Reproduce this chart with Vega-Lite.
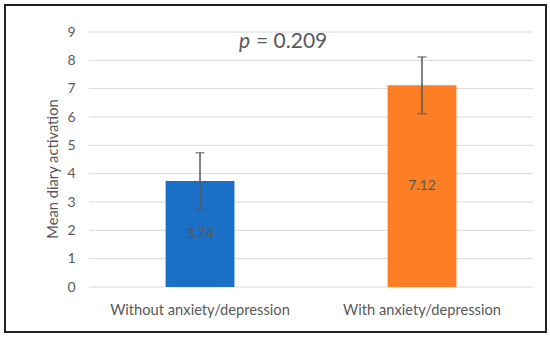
{
  "$schema": "https://vega.github.io/schema/vega-lite/v6.json",
  "width": 541,
  "height": 327,
  "autosize": "none",
  "padding": {"left": 5, "top": 5, "right": 4, "bottom": 8},
  "background": "white",
  "config": {
    "view": {"stroke": "#222222", "strokeWidth": 2},
    "font": "Lato",
    "axis": {"labelFont": "Lato", "titleFont": "Lato", "labelColor": "#595959", "titleColor": "#595959"}
  },
  "datasets": {
    "bars": [
      {"group": "Without anxiety/depression", "mean": 3.74, "lo": 2.74, "hi": 4.74},
      {"group": "With anxiety/depression", "mean": 7.12, "lo": 6.12, "hi": 8.12}
    ],
    "grid": [{"v": 0}, {"v": 1}, {"v": 2}, {"v": 3}, {"v": 4}, {"v": 5}, {"v": 6}, {"v": 7}, {"v": 8}, {"v": 9}]
  },
  "layer": [
    {
      "data": {"name": "grid"},
      "mark": {"type": "rule", "color": "#d9d9d9", "strokeWidth": 1},
      "encoding": {
        "x": {"datum": 0, "type": "quantitative", "scale": {"domain": [-0.3784, 2.0586], "nice": false, "zero": false}, "axis": null},
        "x2": {"datum": 2},
        "y": {
          "field": "v", "type": "quantitative",
          "scale": {"domain": [-1.588, 9.953], "nice": false, "zero": false},
          "axis": {"title": "Mean diary activation", "values": [0, 1, 2, 3, 4, 5, 6, 7, 8, 9], "labelOverlap": false, "grid": false, "domain": false, "ticks": false, "offset": -74, "labelPadding": 4, "labelFontSize": 14, "titleFontSize": 14.7, "titleFontWeight": "normal", "titlePadding": 6}
        }
      }
    },
    {
      "data": {"name": "bars"},
      "encoding": {
        "x": {
          "field": "group", "type": "nominal", "sort": null,
          "scale": {"type": "band", "paddingInner": 0, "paddingOuter": 0.2185, "align": 0.866},
          "axis": {"title": null, "orient": "bottom", "offset": -33, "domain": false, "ticks": false, "labelPadding": 3, "labelFontSize": 14.7, "labelAngle": 0}
        }
      },
      "layer": [
        {
          "mark": {"type": "bar", "width": {"band": 0.31}},
          "encoding": {
            "y": {
              "field": "mean", "type": "quantitative",
              "scale": {"domain": [-1.588, 9.953], "nice": false, "zero": false},
              "axis": null
            },
            "y2": {"datum": 0},
            "color": {
              "field": "group", "type": "nominal", "sort": null,
              "scale": {"domain": ["Without anxiety/depression", "With anxiety/depression"], "range": ["#1c6fc6", "#fe7e26"]},
              "legend": null
            }
          }
        },
        {
          "mark": {"type": "rule", "color": "#595959", "strokeWidth": 1.5},
          "encoding": {
            "y": {"field": "lo", "type": "quantitative", "axis": null},
            "y2": {"field": "hi"}
          }
        },
        {
          "mark": {"type": "tick", "color": "#595959", "size": 9, "thickness": 1.5},
          "encoding": {"y": {"field": "lo", "type": "quantitative", "axis": null}}
        },
        {
          "mark": {"type": "tick", "color": "#595959", "size": 9, "thickness": 1.5},
          "encoding": {"y": {"field": "hi", "type": "quantitative", "axis": null}}
        },
        {
          "data": {"values": [{"t": "p"}]},
          "mark": {"type": "text", "fontStyle": "italic", "fontSize": 21, "color": "#595959", "align": "right", "baseline": "alphabetic", "dx": 50},
          "encoding": {
            "x": {"datum": "Without anxiety/depression"},
            "y": {"datum": 8.43, "axis": null},
            "text": {"field": "t"}
          }
        },
        {
          "data": {"values": [{"t": "= 0.209"}]},
          "mark": {"type": "text", "fontSize": 21, "color": "#595959", "align": "left", "baseline": "alphabetic", "dx": 56},
          "encoding": {
            "x": {"datum": "Without anxiety/depression"},
            "y": {"datum": 8.43, "axis": null},
            "text": {"field": "t"}
          }
        }
      ]
    },
    {
      "data": {"name": "bars"},
      "mark": {"type": "text", "fontSize": 14, "color": "#595959", "baseline": "middle"},
      "encoding": {
        "x": {"field": "group", "type": "nominal", "sort": null, "scale": {"type": "band", "paddingInner": 0, "paddingOuter": 0.2185, "align": 0.866}, "axis": null},
        "y": {"field": "mean", "type": "quantitative", "scale": {"domain": [-3.176, 19.906], "nice": false, "zero": false}, "axis": null},
        "text": {"field": "mean", "type": "quantitative", "format": ".2f"}
      }
    }
  ],
  "resolve": {"scale": {"x": "independent", "y": "independent"}, "axis": {"x": "independent", "y": "independent"}}
}
